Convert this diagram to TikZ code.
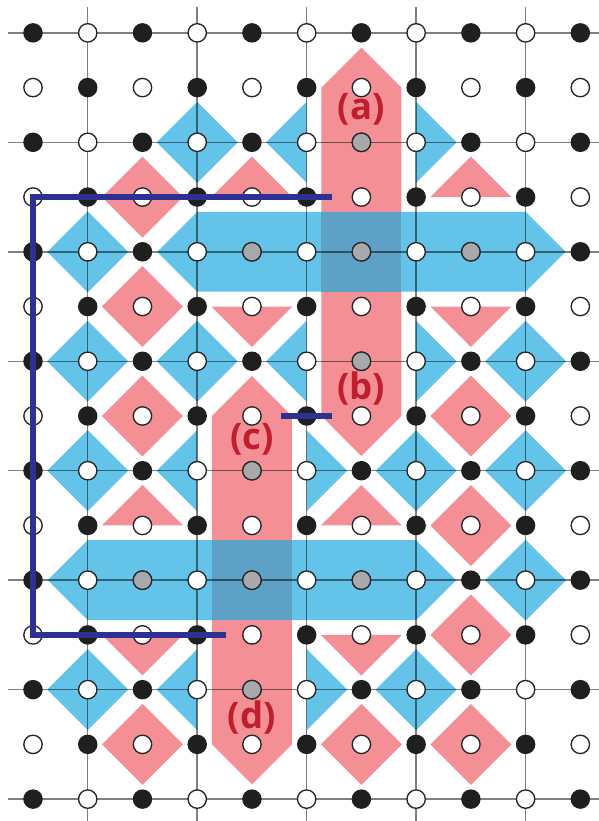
\documentclass[tikz,border=0pt]{standalone}
\usepackage{fontspec}
\usepackage{tikz}
\usetikzlibrary{positioning}
\usepackage{xcolor}

\newfontfamily\tagfont{Open Sans}

\definecolor{xblue}{RGB}{100,195,233}
\definecolor{zpink}{RGB}{244,143,149}
\definecolor{crossing}{RGB}{94,161,199}
\definecolor{ancilla}{RGB}{167,169,172}
\definecolor{navyline}{RGB}{46,49,146}
\definecolor{tagred}{RGB}{193,30,45}

\newcommand\plaqr{0.74}
\newcommand\stripw{0.73}

\begin{document}
\begin{tikzpicture}[
    x=1cm, y=-1cm,
    xplaq/.style={fill=xblue},
    zplaq/.style={fill=zpink},
    gridline/.style={draw=black, draw opacity=0.5, line width=0.75pt},
    qdata/.style={fill=black!88},
    qmeas/.style={fill=white, draw=black!85, line width=0.7pt},
    qgray/.style={fill=ancilla, draw=black!85, line width=0.7pt},
    logical/.style={draw=navyline, line width=3pt, line join=miter},
    tag/.style={font=\tagfont\bfseries\fontsize{19}{19}\selectfont, text=tagred, inner sep=0pt}
]
\useasboundingbox (-0.603,-0.60) rectangle (10.337,14.40);

% defect strips
\fill[zplaq] (6-\stripw,1) -- (6,1-\stripw) -- (6+\stripw,1) -- (6+\stripw,7) -- (6,7+\stripw) -- (6-\stripw,7) -- cycle;
\fill[zplaq] (4-\stripw,7) -- (4,7-\stripw) -- (4+\stripw,7) -- (4+\stripw,13) -- (4,13+\stripw) -- (4-\stripw,13) -- cycle;
\fill[xplaq] (3,4-\stripw) -- (9,4-\stripw) -- (9+\stripw,4) -- (9,4+\stripw) -- (3,4+\stripw) -- (3-\stripw,4) -- cycle;
\fill[xplaq] (1,10-\stripw) -- (7,10-\stripw) -- (7+\stripw,10) -- (7,10+\stripw) -- (1,10+\stripw) -- (1-\stripw,10) -- cycle;
\fill[crossing] (6-\stripw,4-\stripw) rectangle (6+\stripw,4+\stripw);
\fill[crossing] (4-\stripw,10-\stripw) rectangle (4+\stripw,10+\stripw);

% X plaquettes
\foreach \i/\j in {3/2,1/4,1/6,3/6,9/6,1/8,7/8,9/8,9/10,1/12,7/12}
    \fill[xplaq] (\i-\plaqr,\j) -- (\i,\j-\plaqr) -- (\i+\plaqr,\j) -- (\i,\j+\plaqr) -- cycle;
\foreach \i/\j in {5/2,5/6,3/8,3/12}
    \fill[xplaq] (\i-\plaqr,\j) -- (\i,\j-\plaqr) -- (\i,\j+\plaqr) -- cycle;
\foreach \i/\j in {7/2,7/6,5/8,5/12}
    \fill[xplaq] (\i+\plaqr,\j) -- (\i,\j-\plaqr) -- (\i,\j+\plaqr) -- cycle;

% Z plaquettes
\foreach \i/\j in {2/3,2/5,2/7,8/7,8/9,8/11,2/13,6/13,8/13}
    \fill[zplaq] (\i-\plaqr,\j) -- (\i,\j-\plaqr) -- (\i+\plaqr,\j) -- (\i,\j+\plaqr) -- cycle;
\foreach \i/\j in {4/3,8/3,2/9,6/9}
    \fill[zplaq] (\i-\plaqr,\j) -- (\i,\j-\plaqr) -- (\i+\plaqr,\j) -- cycle;
\foreach \i/\j in {4/5,8/5,2/11,6/11}
    \fill[zplaq] (\i-\plaqr,\j) -- (\i,\j+\plaqr) -- (\i+\plaqr,\j) -- cycle;

% lattice
\foreach \j in {0,2,...,14}
    \draw[gridline] (-0.45,\j) -- (10.4,\j);
\foreach \i in {1,3,...,9}
    \draw[gridline] (\i,-0.47) -- (\i,14.5);

% qubits
\foreach \j in {0,...,14}
    \foreach \i in {0,...,10}{
        \pgfmathtruncatemacro\parity{mod(\i+\j,2)}
        \ifnum\parity=0
            \fill[qdata] (\i,\j) circle (0.178);
        \else
            \filldraw[qmeas] (\i,\j) circle (0.168);
        \fi
    }
\foreach \i/\j in {6/2,4/4,6/4,8/4,6/6,4/8,2/10,4/10,6/10,4/12}
    \filldraw[qgray] (\i,\j) circle (0.17);

% logical operator
\coordinate (opStart) at (5.47,3);
\coordinate (opTop) at (0,3);
\coordinate (opBottom) at (0,11);
\coordinate (opEnd) at (3.52,11);
\coordinate (cutL) at (4.53,7);
\coordinate (cutR) at (5.47,7);
\draw[logical] (opStart) -- (opTop) -- (opBottom) -- (opEnd);
\draw[logical] (cutL) -- (cutR);

% labels
\node[tag] (tagA) at (6,1.4) {(a)};
\node[tag] (tagB) at (6,6.5) {(b)};
\node[tag] (tagC) at (4,7.43) {(c)};
\node[tag] (tagD) at (4,12.5) {(d)};

\end{tikzpicture}
\end{document}
